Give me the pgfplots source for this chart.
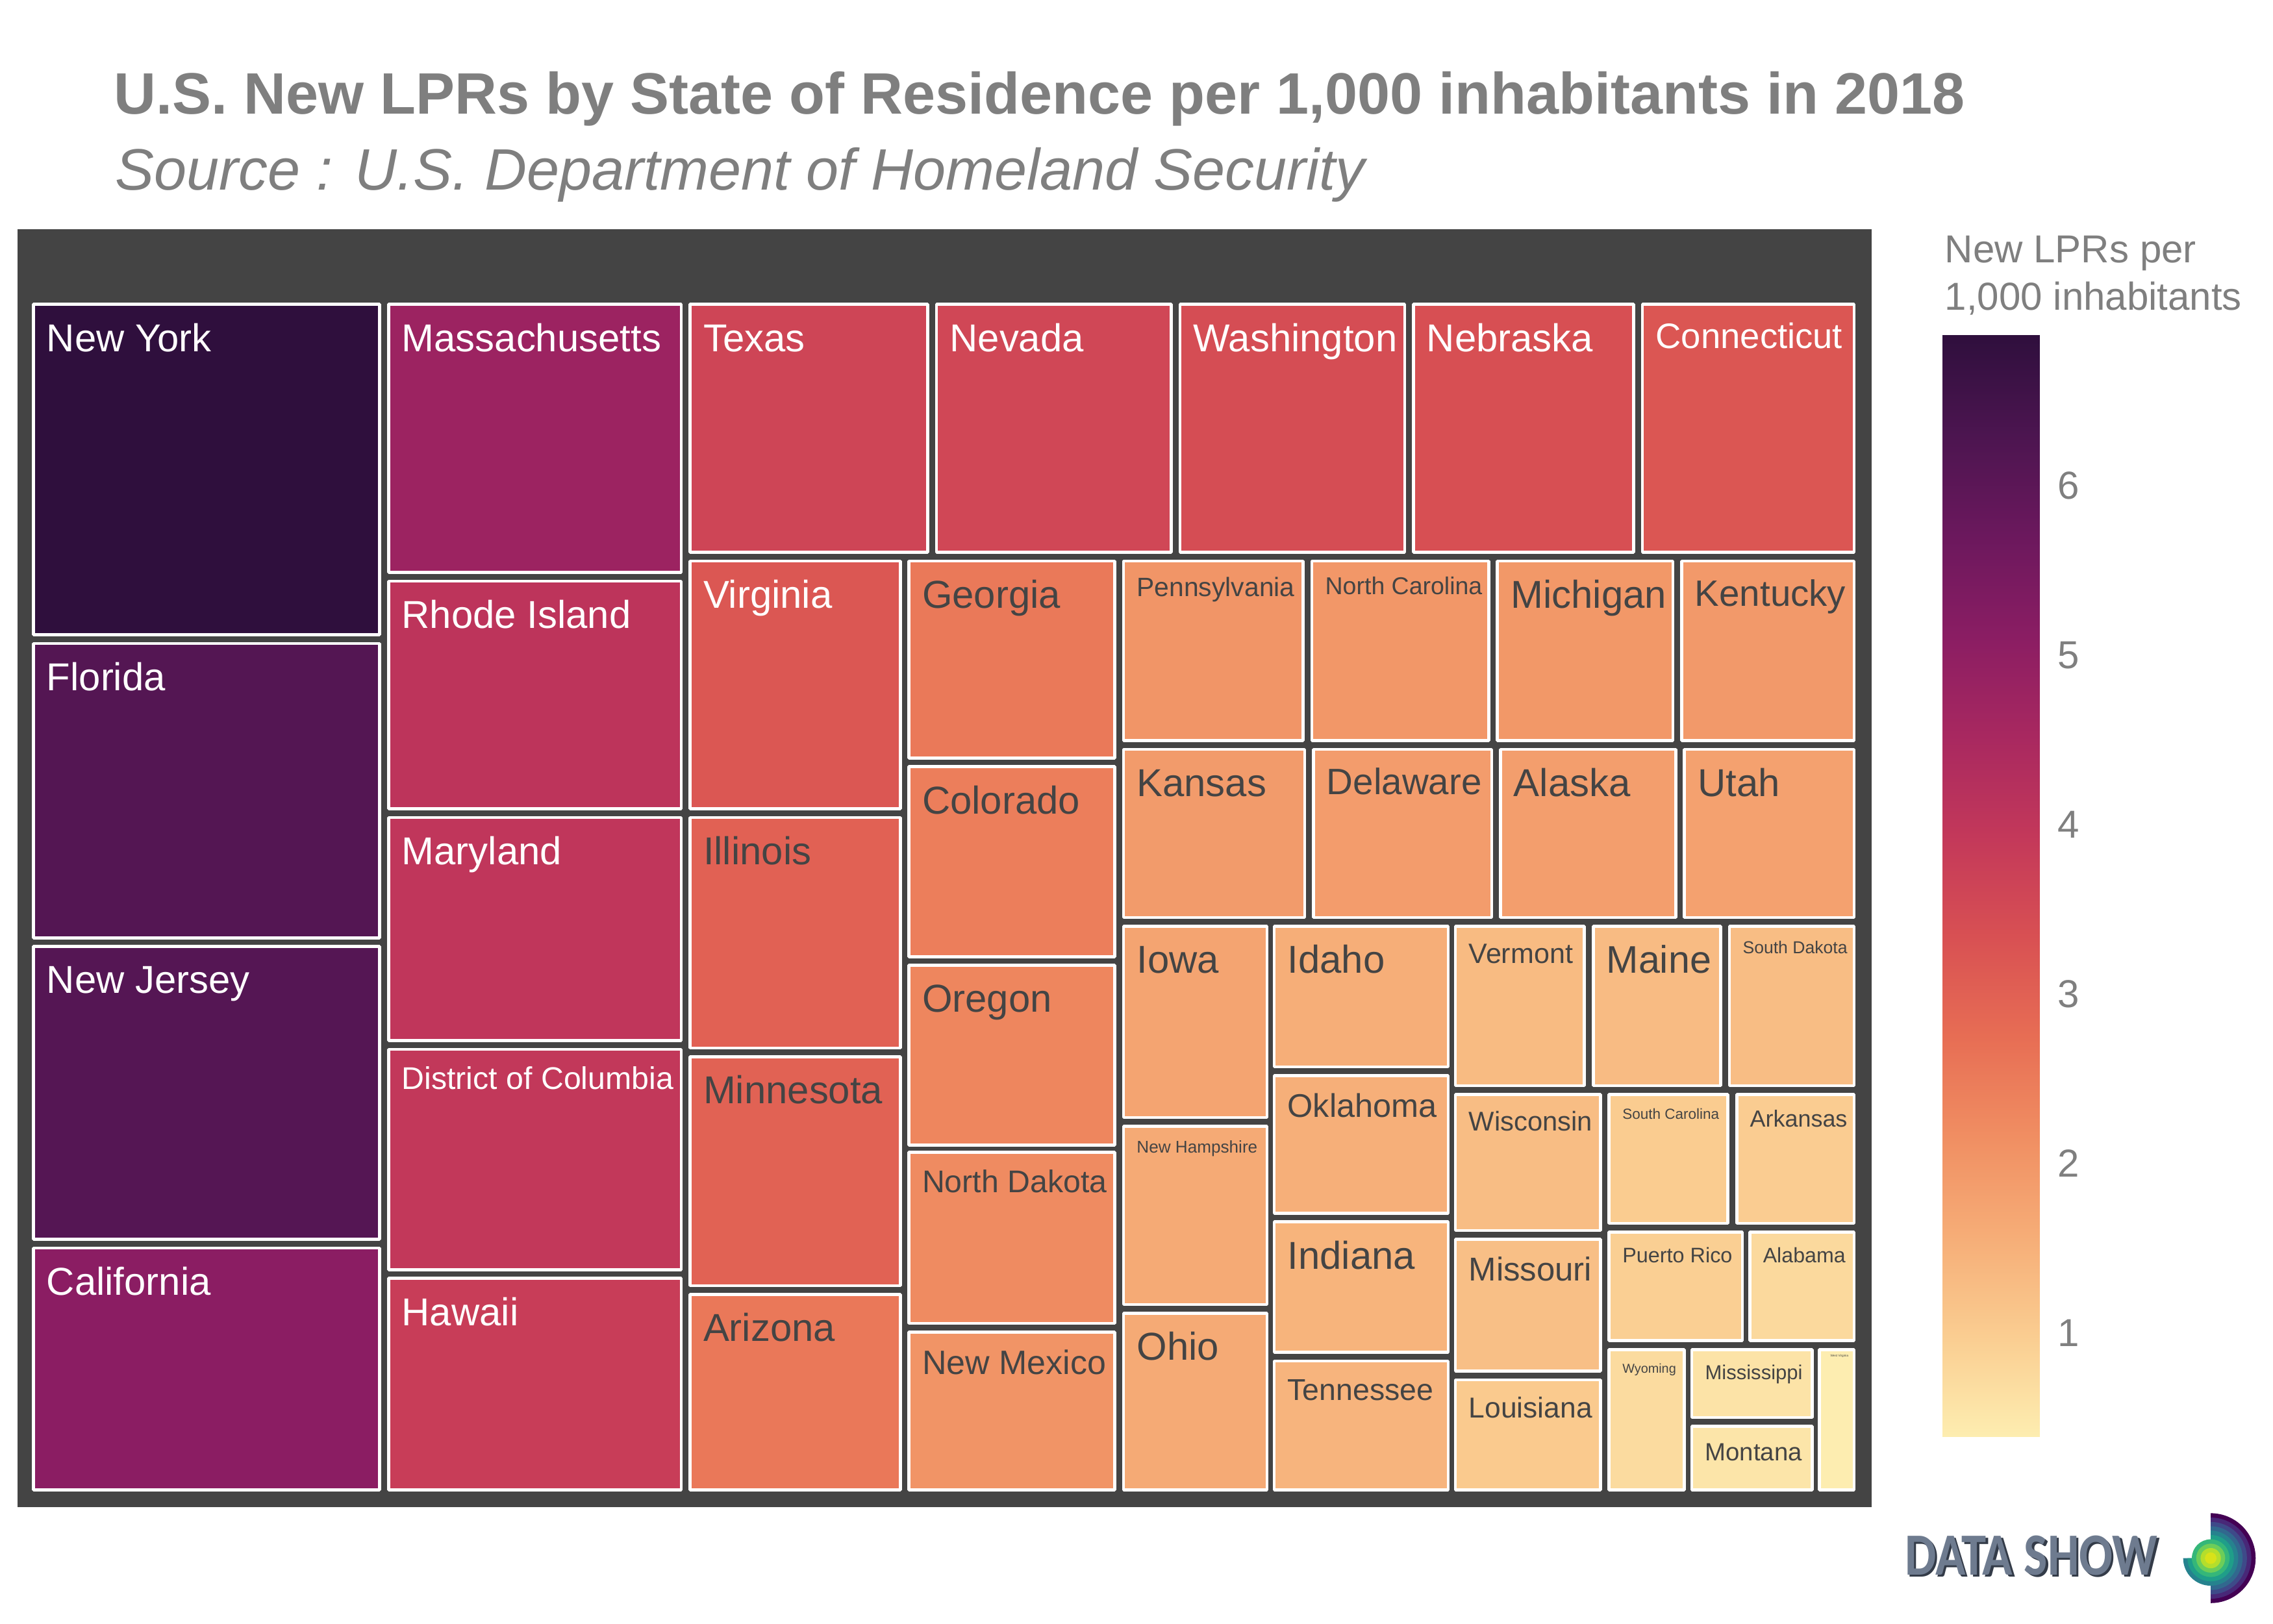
\documentclass[border=0pt]{standalone}
\usepackage{fontspec}
\setmainfont{Liberation Sans}
\newfontfamily\logofont{Carlito}
\usepackage{pgfplots}
\pgfplotsset{compat=1.18}
\definecolor{framegray}{HTML}{444444}
\definecolor{titlegray}{HTML}{7F7F7F}
\definecolor{darktxt}{HTML}{444444}
\definecolor{logodark}{HTML}{333B48}
\definecolor{logofill}{HTML}{6E7B8F}
\pgfplotsset{colormap={matter}{rgb255=(253,237,176) rgb255=(250,205,145) rgb255=(246,173,119) rgb255=(240,142,98) rgb255=(231,109,84) rgb255=(216,80,83) rgb255=(195,56,90) rgb255=(168,40,96) rgb255=(138,29,99) rgb255=(107,24,93) rgb255=(76,21,80) rgb255=(47,15,61)}}
% label: x, baseline y, font size (pt), colour, text
\newcommand{\lab}[5]{\node[anchor=base west,inner sep=0pt,text=#4,font=\fontsize{#3}{#3}\selectfont] at (axis cs:#1,#2) {#5};}
\begin{document}
\begin{tikzpicture}
\begin{axis}[name=main,scale only axis,width=156.8mm,height=112mm,
  xmin=0,xmax=1568,ymin=0,ymax=1120,y dir=reverse,hide axis,clip=false,
  colormap name=matter,point meta min=0.39,point meta max=6.89]
\fill[white] (axis cs:0,0) rectangle (axis cs:1568,1120);
\fill[framegray] (axis cs:12,158) rectangle (axis cs:1291,1040);
\addplot[patch,patch type=rectangle,shader=faceted,faceted color=white,line width=0.6pt,point meta=explicit] table[meta=c] {
x y c
23 210 6.89
262 210 6.89
262 438 6.89
23 438 6.89
23 444 6.15
262 444 6.15
262 647 6.15
23 647 6.15
23 653 6.12
262 653 6.12
262 855 6.12
23 855 6.12
23 861 5.09
262 861 5.09
262 1028 5.09
23 1028 5.09
268 210 4.77
470 210 4.77
470 395 4.77
268 395 4.77
268 401 4.07
470 401 4.07
470 558 4.07
268 558 4.07
268 564 4.00
470 564 4.00
470 718 4.00
268 718 4.00
268 724 3.95
470 724 3.95
470 876 3.95
268 876 3.95
268 882 3.80
470 882 3.80
470 1028 3.80
268 1028 3.80
476 210 3.62
640 210 3.62
640 381 3.62
476 381 3.62
646 210 3.57
808 210 3.57
808 381 3.57
646 381 3.57
814 210 3.42
969 210 3.42
969 381 3.42
814 381 3.42
975 210 3.36
1127 210 3.36
1127 381 3.36
975 381 3.36
1133 210 3.23
1279 210 3.23
1279 381 3.23
1133 381 3.23
476 387 3.21
621 387 3.21
621 558 3.21
476 558 3.21
476 564 2.99
621 564 2.99
621 723 2.99
476 723 2.99
476 729 2.98
621 729 2.98
621 887 2.98
476 887 2.98
476 893 2.56
621 893 2.56
621 1028 2.56
476 1028 2.56
627 387 2.53
769 387 2.53
769 523 2.53
627 523 2.53
627 529 2.44
769 529 2.44
769 660 2.44
627 660 2.44
627 666 2.31
769 666 2.31
769 790 2.31
627 790 2.31
627 795 2.21
769 795 2.21
769 913 2.21
627 913 2.21
627 919 2.05
769 919 2.05
769 1028 2.05
627 1028 2.05
775 387 2.03
899 387 2.03
899 511 2.03
775 511 2.03
905 387 2.00
1027 387 2.00
1027 511 2.00
905 511 2.00
1033 387 1.98
1154 387 1.98
1154 511 1.98
1033 511 1.98
1160 387 1.95
1279 387 1.95
1279 511 1.95
1160 511 1.95
775 517 1.92
900 517 1.92
900 633 1.92
775 633 1.92
906 517 1.89
1029 517 1.89
1029 633 1.89
906 633 1.89
1035 517 1.86
1156 517 1.86
1156 633 1.86
1035 633 1.86
1162 517 1.80
1279 517 1.80
1279 633 1.80
1162 633 1.80
775 639 1.74
874 639 1.74
874 771 1.74
775 771 1.74
775 777 1.63
874 777 1.63
874 900 1.63
775 900 1.63
775 906 1.62
874 906 1.62
874 1028 1.62
775 1028 1.62
879 639 1.56
999 639 1.56
999 736 1.56
879 736 1.56
879 742 1.53
999 742 1.53
999 837 1.53
879 837 1.53
879 843 1.45
999 843 1.45
999 933 1.45
879 933 1.45
879 939 1.44
999 939 1.44
999 1028 1.44
879 1028 1.44
1004 639 1.32
1093 639 1.32
1093 749 1.32
1004 749 1.32
1099 639 1.31
1187 639 1.31
1187 749 1.31
1099 749 1.31
1193 639 1.28
1279 639 1.28
1279 749 1.28
1193 749 1.28
1004 755 1.27
1104 755 1.27
1104 849 1.27
1004 849 1.27
1004 855 1.24
1104 855 1.24
1104 946 1.24
1004 946 1.24
1004 952 1.04
1104 952 1.04
1104 1028 1.04
1004 1028 1.04
1110 755 1.00
1192 755 1.00
1192 844 1.00
1110 844 1.00
1198 755 0.99
1279 755 0.99
1279 844 0.99
1198 844 0.99
1110 850 0.95
1202 850 0.95
1202 925 0.95
1110 925 0.95
1207 850 0.76
1279 850 0.76
1279 925 0.76
1207 925 0.76
1110 931 0.72
1162 931 0.72
1162 1028 0.72
1110 1028 0.72
1167 931 0.57
1250 931 0.57
1250 978 0.57
1167 978 0.57
1167 984 0.53
1250 984 0.53
1250 1028 0.53
1167 1028 0.53
1255 931 0.39
1279 931 0.39
1279 1028 0.39
1255 1028 0.39
};
% titles
\node[anchor=base west,inner sep=0pt,text=titlegray,font=\bfseries\fontsize{11.47}{11.47}\selectfont] at (axis cs:78,78.5) {U.S. New LPRs by State of Residence per 1,000 inhabitants in 2018};
\node[anchor=base west,inner sep=0pt,text=titlegray,font=\itshape\fontsize{11.47}{11.47}\selectfont] at (axis cs:79,131) {Source : U.S. Department of Homeland Security};
\lab{1341}{181}{7.65}{titlegray}{New LPRs per}
\lab{1341}{214}{7.65}{titlegray}{1,000 inhabitants}
% tile labels
\lab{31.5}{242.4}{7.63}{white}{New York}
\lab{31.5}{476.4}{7.63}{white}{Florida}
\lab{31.5}{685.4}{7.63}{white}{New Jersey}
\lab{31.5}{893.4}{7.63}{white}{California}
\lab{276.5}{242.4}{7.63}{white}{Massachusetts}
\lab{276.5}{433.4}{7.63}{white}{Rhode Island}
\lab{276.5}{596.4}{7.63}{white}{Maryland}
\lab{276.5}{751.7}{6.15}{white}{District of Columbia}
\lab{276.5}{914.4}{7.63}{white}{Hawaii}
\lab{484.5}{242.4}{7.63}{white}{Texas}
\lab{654.5}{242.4}{7.63}{white}{Nevada}
\lab{822.5}{242.4}{7.63}{white}{Washington}
\lab{983.5}{242.4}{7.63}{white}{Nebraska}
\lab{1141.5}{240.2}{6.94}{white}{Connecticut}
\lab{484.5}{419.4}{7.63}{white}{Virginia}
\lab{484.5}{596.4}{7.63}{darktxt}{Illinois}
\lab{484.5}{761.4}{7.63}{darktxt}{Minnesota}
\lab{484.5}{925.4}{7.63}{darktxt}{Arizona}
\lab{635.5}{419.4}{7.63}{darktxt}{Georgia}
\lab{635.5}{561.4}{7.63}{darktxt}{Colorado}
\lab{635.5}{698.4}{7.63}{darktxt}{Oregon}
\lab{635.5}{822.7}{6.15}{darktxt}{North Dakota}
\lab{635.5}{948.2}{6.63}{darktxt}{New Mexico}
\lab{783.5}{411.7}{5.21}{darktxt}{Pennsylvania}
\lab{913.5}{410.3}{4.78}{darktxt}{North Carolina}
\lab{1041.5}{419.4}{7.63}{darktxt}{Michigan}
\lab{1168.5}{418.0}{7.20}{darktxt}{Kentucky}
\lab{783.5}{549.4}{7.63}{darktxt}{Kansas}
\lab{914.5}{548.0}{7.20}{darktxt}{Delaware}
\lab{1043.5}{549.4}{7.63}{darktxt}{Alaska}
\lab{1170.5}{549.4}{7.63}{darktxt}{Utah}
\lab{783.5}{671.4}{7.63}{darktxt}{Iowa}
\lab{783.5}{795.6}{3.33}{darktxt}{New Hampshire}
\lab{783.5}{938.4}{7.63}{darktxt}{Ohio}
\lab{887.5}{671.4}{7.63}{darktxt}{Idaho}
\lab{887.5}{770.6}{6.43}{darktxt}{Oklahoma}
\lab{887.5}{875.4}{7.63}{darktxt}{Indiana}
\lab{887.5}{965.9}{5.92}{darktxt}{Tennessee}
\lab{1012.5}{664.6}{5.49}{darktxt}{Vermont}
\lab{1107.5}{671.4}{7.55}{darktxt}{Maine}
\lab{1201.5}{657.8}{3.39}{darktxt}{South Dakota}
\lab{1012.5}{780.0}{5.32}{darktxt}{Wisconsin}
\lab{1012.5}{883.7}{6.49}{darktxt}{Missouri}
\lab{1012.5}{978.1}{5.66}{darktxt}{Louisiana}
\lab{1118.5}{772.2}{2.87}{darktxt}{South Carolina}
\lab{1206.5}{777.7}{4.58}{darktxt}{Arkansas}
\lab{1118.5}{871.2}{4.13}{darktxt}{Puerto Rico}
\lab{1215.5}{871.1}{4.10}{darktxt}{Alabama}
\lab{1118.5}{947.1}{2.53}{darktxt}{Wyoming}
\lab{1175.5}{951.6}{3.96}{darktxt}{Mississippi}
\lab{1175.5}{1007.7}{4.89}{darktxt}{Montana}
\lab{1262}{936}{0.6}{darktxt}{West Virginia}
% logo
\node[anchor=base west,inner sep=0pt,yscale=1.2,text=logodark,font=\logofont\bfseries\fontsize{9.8}{9.8}\selectfont] at (axis cs:1315,1088) {DATA SHOW};
\node[anchor=base west,inner sep=0pt,yscale=1.2,text=logofill,font=\logofont\bfseries\fontsize{9.8}{9.8}\selectfont] at (axis cs:1313.5,1086.5) {DATA SHOW};
\fill[fill={rgb,255:red,68;green,1;blue,84}] (axis cs:1525,1075) -- ++(90:3.1mm) arc[start angle=90,end angle=-90,radius=3.1mm] -- cycle;
\fill[fill={rgb,255:red,72;green,40;blue,120}] (axis cs:1525,1075) -- ++(90:2.8mm) arc[start angle=90,end angle=-90,radius=2.8mm] -- cycle;
\fill[fill={rgb,255:red,62;green,74;blue,137}] (axis cs:1525,1075) -- ++(90:2.5mm) arc[start angle=90,end angle=-90,radius=2.5mm] -- cycle;
\fill[fill={rgb,255:red,49;green,104;blue,142}] (axis cs:1525,1075) -- ++(90:2.2mm) arc[start angle=90,end angle=-90,radius=2.2mm] -- cycle;
\fill[fill={rgb,255:red,38;green,130;blue,142}] (axis cs:1525,1075) -- ++(90:1.9mm) arc[start angle=90,end angle=-180,radius=1.9mm] -- cycle;
\fill[fill={rgb,255:red,31;green,158;blue,137}] (axis cs:1525,1075) -- ++(90:1.6mm) arc[start angle=90,end angle=-180,radius=1.6mm] -- cycle;
\fill[fill={rgb,255:red,53;green,183;blue,121}] (axis cs:1525,1075) circle[radius=1.3mm];
\fill[fill={rgb,255:red,109;green,205;blue,89}] (axis cs:1525,1075) circle[radius=1.0mm];
\fill[fill={rgb,255:red,180;green,222;blue,44}] (axis cs:1525,1075) circle[radius=0.7mm];
\fill[fill={rgb,255:red,216;green,226;blue,25}] (axis cs:1525,1075) circle[radius=0.4mm];
\end{axis}
% colour bar
\begin{axis}[at={(main.south west)},anchor=south west,xshift=134mm,yshift=12.9mm,
  scale only axis,width=6.7mm,height=76mm,xmin=0,xmax=1,ymin=0.39,ymax=6.89,
  hide x axis,axis y line*=right,y axis line style={draw=none},
  ytick={1,2,3,4,5,6},major tick length=0pt,
  yticklabel style={font=\fontsize{7.65}{7.65}\selectfont,text=titlegray},
  /pgf/number format/assume math mode=true,
  colormap name=matter,point meta min=0.39,point meta max=6.89]
\addplot[surf,shader=interp,mesh/rows=2,point meta=y] coordinates {(0,0.39) (1,0.39) (0,6.89) (1,6.89)};
\end{axis}
\end{tikzpicture}
\end{document}
